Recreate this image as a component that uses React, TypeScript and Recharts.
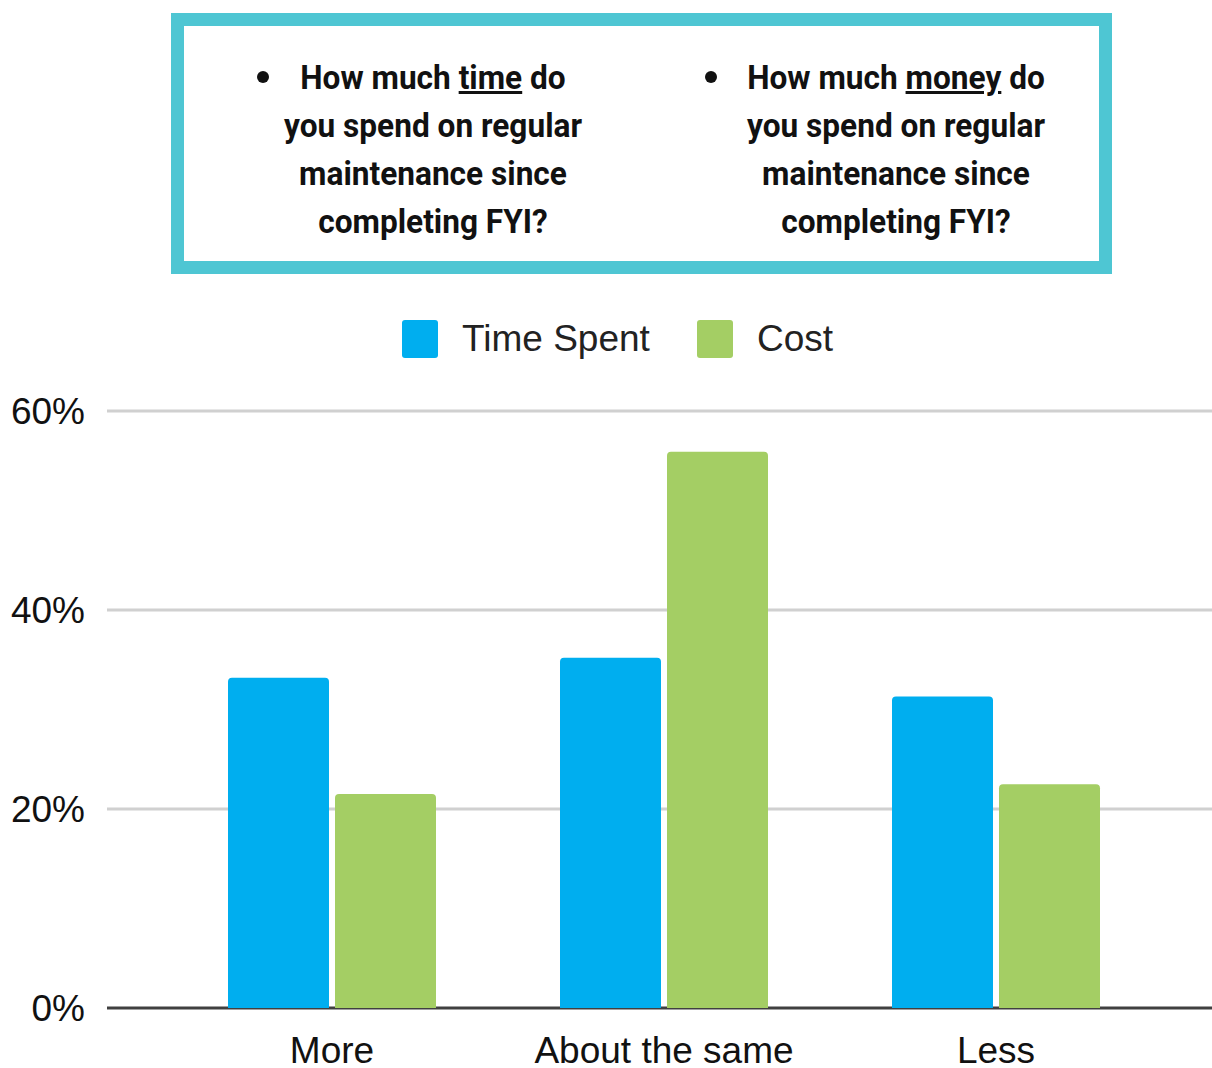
import React from 'react';
import { BarChart, Bar, XAxis, YAxis, CartesianGrid } from 'recharts';

const categories = ['More', 'About the same', 'Less'];
const timeSpent = [33.2, 35.2, 31.3];
const cost = [21.5, 55.9, 22.5];
const yTicks = [0, 20, 40, 60];

const seriesNames = { time: 'Time Spent', cost: 'Cost' };
const seriesColors = { time: '#00AEEF', cost: '#A4CE64' };

const data = categories.map((name, i) => ({ name, time: timeSpent[i], cost: cost[i] }));

const chartFont = '"Liberation Sans", Arial, Helvetica, sans-serif';
const boxFont = 'Roboto, "Noto Sans", sans-serif';

function Question({ left, bulletX, lines }: { left: number; bulletX: number; lines: React.ReactNode[] }) {
  return (
    <>
      <div
        style={{
          position: 'absolute',
          left: bulletX - 6,
          top: 71,
          width: 12,
          height: 12,
          borderRadius: 6,
          background: '#111',
        }}
      />
      <div
        style={{
          position: 'absolute',
          left: left - 200,
          top: 53,
          width: 400,
          textAlign: 'center',
          fontSize: 34,
          lineHeight: '48px',
          fontWeight: 700,
          color: '#111',
        }}
      >
        {lines.map((l, i) => (
          <div key={i} style={{ whiteSpace: 'nowrap', transform: 'scaleX(0.93)', transformOrigin: 'center' }}>
            {l}
          </div>
        ))}
      </div>
    </>
  );
}

function LegendRow() {
  const items = [
    { key: 'time', left: 402 },
    { key: 'cost', left: 697 },
  ] as const;
  return (
    <>
      {items.map((it) => (
        <div
          key={it.key}
          style={{
            position: 'absolute',
            left: it.left,
            top: 320,
            height: 38,
            display: 'flex',
            alignItems: 'center',
            fontFamily: chartFont,
            fontSize: 37,
            color: '#222',
          }}
        >
          <span
            style={{
              display: 'inline-block',
              width: 36,
              height: 38,
              borderRadius: 3,
              background: seriesColors[it.key],
              marginRight: 24,
            }}
          />
          <span>{seriesNames[it.key]}</span>
        </div>
      ))}
    </>
  );
}

export default function App() {
  return (
    <div
      style={{
        position: 'absolute',
        left: 0,
        top: 0,
        width: 1212,
        height: 1068,
        background: '#fff',
        fontFamily: boxFont,
      }}
    >
      {/* Question box */}
      <div
        style={{
          position: 'absolute',
          left: 171,
          top: 13,
          width: 941,
          height: 261,
          boxSizing: 'border-box',
          border: '13px solid #4EC6D3',
        }}
      />
      <Question
        left={433}
        bulletX={263}
        lines={[
          <>How much <u>time</u> do</>,
          'you spend on regular',
          'maintenance since',
          'completing FYI?',
        ]}
      />
      <Question
        left={896}
        bulletX={711}
        lines={[
          <>How much <u>money</u> do</>,
          'you spend on regular',
          'maintenance since',
          'completing FYI?',
        ]}
      />

      <LegendRow />

      <div style={{ position: 'absolute', left: 0, top: 0 }}>
        <BarChart
          width={1212}
          height={1068}
          data={data}
          margin={{ top: 411, right: 0, bottom: 0, left: 0 }}
          barSize={101}
          barGap={6}
        >
          <CartesianGrid
            vertical={false}
            horizontalValues={[20, 40, 60]}
            stroke="#D0D0D0"
            strokeWidth={3}
          />
          <CartesianGrid vertical={false} horizontalValues={[0]} stroke="#404040" strokeWidth={3} />
          <XAxis
            dataKey="name"
            height={60}
            axisLine={false}
            tickLine={false}
            tickSize={0}
            tickMargin={29}
            padding={{ left: 59, right: 50 }}
            tick={{ fontSize: 37, fill: '#111', fontFamily: chartFont }}
          />
          <YAxis
            width={107}
            domain={[0, 60]}
            ticks={yTicks}
            axisLine={false}
            tickLine={false}
            tickSize={0}
            tickMargin={22}
            tickFormatter={(v: number) => `${v}%`}
            tick={{ fontSize: 37, fill: '#111', fontFamily: chartFont }}
          />
          <Bar dataKey="time" name={seriesNames.time} fill={seriesColors.time} radius={[4, 4, 0, 0]} isAnimationActive={false} />
          <Bar dataKey="cost" name={seriesNames.cost} fill={seriesColors.cost} radius={[4, 4, 0, 0]} isAnimationActive={false} />
        </BarChart>
      </div>
    </div>
  );
}
